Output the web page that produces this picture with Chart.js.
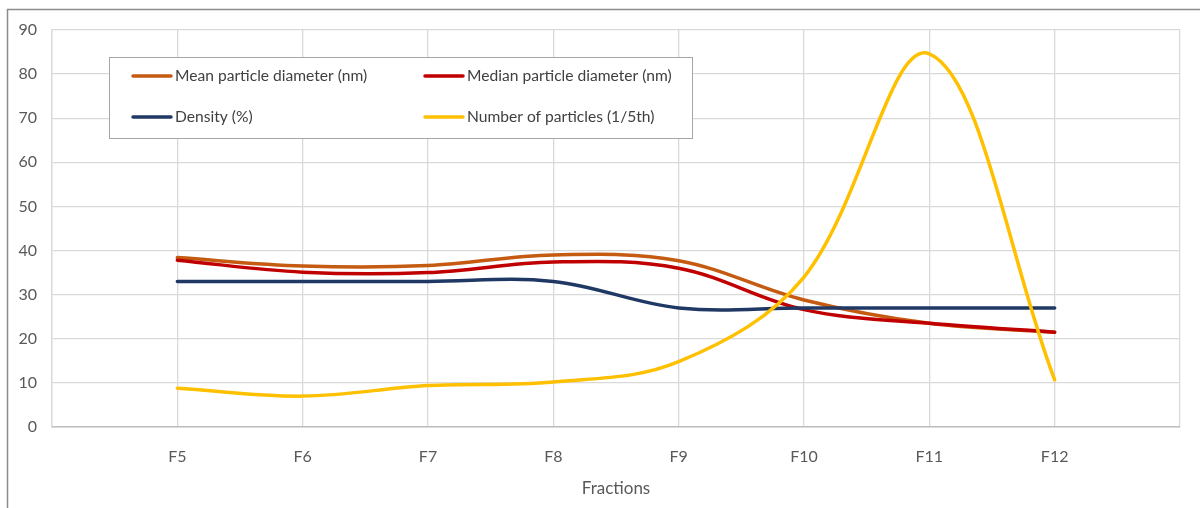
<!DOCTYPE html>
<html>
<head>
<meta charset="utf-8">
<script src="https://cdn.jsdelivr.net/npm/chart.js@4"></script>
<style>
  html, body { margin: 0; padding: 0; background: #fff; }
  #wrap { width: 1200px; height: 508px; }
</style>
</head>
<body>
<div id="wrap"><canvas id="chart0" width="1200" height="508"></canvas></div>
<script>
// data

const fractions = ['F5', 'F6', 'F7', 'F8', 'F9', 'F10', 'F11', 'F12'];
const meanDiameter = [38.4, 36.5, 36.6, 39, 37.7, 28.8, 23.5, 21.5];
const medianDiameter = [37.8, 35.1, 35, 37.4, 36, 26.6, 23.5, 21.5];
const density = [33, 33, 33, 33, 27, 27, 27, 27];
const particleCount = [8.8, 7, 9.4, 10.2, 14.8, 34, 84.6, 10.7];
const yTicks = [0, 10, 20, 30, 40, 50, 60, 70, 80, 90];

// one empty slot on each side, like the excel axis
const labels = [''].concat(fractions, ['']);
const pad = arr => [null].concat(arr, [null]);

const axisFont = { family: 'Lato, "Open Sans", sans-serif', size: 16 };
const textGrey = '#595959';

// frame around the whole chart + legend box inside the plot
const framePlugin = {
  id: 'frame',
  beforeDraw(chart) {
    const c = chart.ctx;
    c.save();
    c.fillStyle = '#fff';
    c.fillRect(0, 0, chart.width, chart.height);
    c.strokeStyle = '#8c8c8c';
    c.lineWidth = 1.5;
    c.strokeRect(7.5, 9.5, 1400, 700);
    c.restore();
  },
  beforeDatasetsDraw(chart) {
    const c = chart.ctx;
    const sets = chart.data.datasets;
    const cols = [133, 425];
    const rows = [76, 117];
    c.save();
    c.fillStyle = '#fff';
    c.fillRect(109, 57, 583, 81);
    c.strokeStyle = '#a6a6a6';
    c.lineWidth = 1;
    c.strokeRect(109.5, 57.5, 583, 81);
    c.font = '15.6px Lato, "Open Sans", sans-serif';
    c.textBaseline = 'middle';
    sets.forEach((ds, i) => {
      const x = cols[i % 2], y = rows[Math.floor(i / 2)];
      c.strokeStyle = ds.borderColor;
      c.lineWidth = 3.5;
      c.lineCap = 'round';
      c.beginPath();
      c.moveTo(x, y);
      c.lineTo(x + 38, y);
      c.stroke();
      c.fillStyle = '#404040';
      c.fillText(ds.label, x + 42, y);
    });
    c.restore();
  }
};

const ctx0 = document.getElementById('chart0');

new Chart(ctx0, {
  type: 'line',
  data: {
    labels: labels,
    datasets: [{
      label: 'Mean particle diameter (nm)',
      data: pad(meanDiameter),
      borderColor: '#C55A11',
      order: 3
    }, {
      label: 'Median particle diameter (nm)',
      data: pad(medianDiameter),
      borderColor: '#C00000',
      order: 2
    }, {
      label: 'Density (%)',
      data: pad(density),
      borderColor: '#203864',
      order: 1
    }, {
      label: 'Number of particles (1/5th)',
      data: pad(particleCount),
      borderColor: '#FFC000',
      order: 0
    }]
  },
  options: {
    responsive: false,
    animation: false,
    spanGaps: true,
    layout: { padding: { top: 30, right: 15, left: 0, bottom: 0 } },
    elements: {
      line: { tension: 0.36, borderWidth: 3.5, borderCapStyle: 'round', fill: false },
      point: { radius: 0, hoverRadius: 0 }
    },
    plugins: {
      legend: { display: false },
      tooltip: { enabled: false }
    },
    scales: {
      x: {
        offset: false,
        grid: { color: '#d9d9d9', lineWidth: 1.3, drawTicks: false },
        border: { color: '#bfbfbf', width: 1.5 },
        ticks: { color: textGrey, font: axisFont, padding: 20, autoSkip: false, maxRotation: 0 },
        title: { display: true, text: 'Fractions', color: textGrey, font: { family: axisFont.family, size: 17 }, padding: { top: 4, bottom: 9 } },
        afterFit: s => { s.height = 81; }
      },
      y: {
        min: 0,
        max: 90,
        afterBuildTicks: s => { s.ticks = yTicks.map(v => ({ value: v })); },
        grid: { color: '#d9d9d9', lineWidth: 1.3, drawTicks: false },
        border: { color: '#d9d9d9', width: 1.3 },
        ticks: { color: textGrey, font: axisFont, padding: 15 },
        afterFit: s => { s.width = 52; }
      }
    }
  },
  plugins: [framePlugin]
});
</script>
</body>
</html>
